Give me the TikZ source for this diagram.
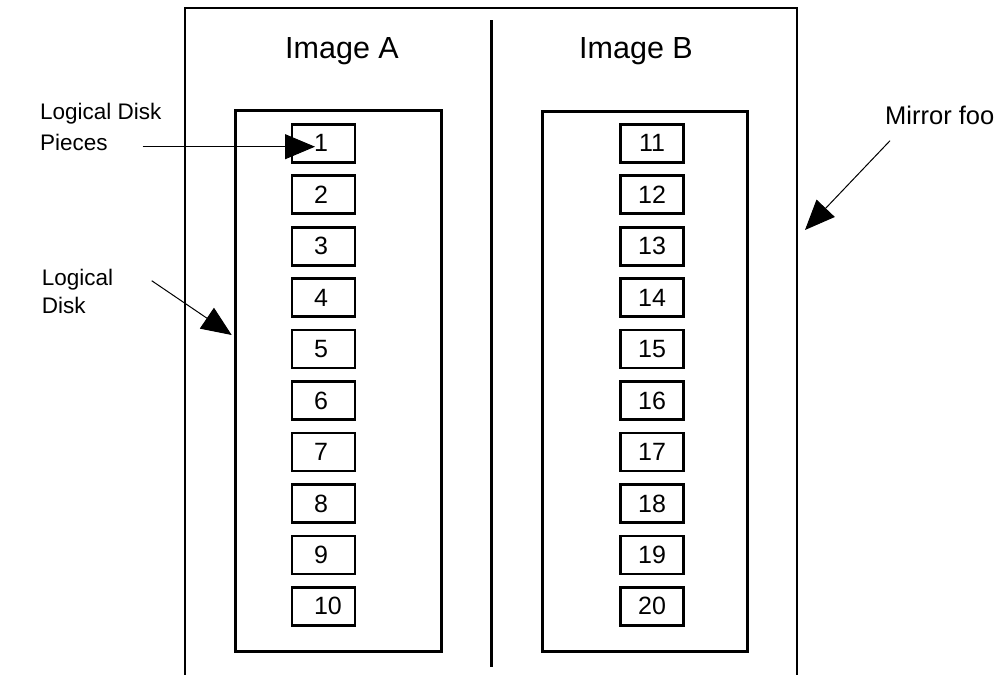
\documentclass[tikz,border=0pt]{standalone}
\usepackage{fontspec}
\setmainfont{Liberation Sans}
\usetikzlibrary{arrows.meta}
\begin{document}
\begin{tikzpicture}[x=1pt,y=-1pt,
  frameline/.style={line width=2pt},
  diskbox/.style={draw,line width=3pt,inner sep=0pt},
  piece/.style={draw,line width=2.7pt,minimum width=63pt,minimum height=38pt,
    inner sep=0pt,font=\fontsize{25}{29}\selectfont},
  title/.style={anchor=base,inner sep=0pt,font=\fontsize{30.5}{36}\selectfont},
  note/.style={anchor=base west,inner sep=0pt,font=\fontsize{22.5}{26}\selectfont},
  pointer/.style={line width=1pt,-{Triangle[length=30pt,width=25pt]}}]
\useasboundingbox (0,0) rectangle (1002,675);

% mirror frame, open at the bottom, and the divider between the two images
\draw[frameline] (185,675) -- (185,8) -- (797,8) -- (797,675);
\draw[line width=2.5pt] (491.5,20) -- (491.5,667);

% image titles
\node[title] (ta) at (342,58.3) {Image A};
\node[title] (tb) at (636,58.3) {Image B};

% logical disks
\node[diskbox,minimum width=206pt,minimum height=541pt] (diskA) at (338.5,381) {};
\node[diskbox,minimum width=205pt,minimum height=540pt] (diskB) at (644.5,381.7) {};

% logical disk pieces
\foreach \i in {1,...,10} {
  \node[piece] (a\i) at (323.5,{143.3+51.45*(\i-1)}) {\makebox[19pt][l]{\i}};
  \pgfmathtruncatemacro\n{\i+10}
  \node[piece] (b\i) at (652,{143.3+51.45*(\i-1)}) {\n};
}

% labels
\node[note] (ldp1) at (40,119.5) {Logical Disk};
\node[note] (ldp2) at (40,150) {Pieces};
\node[note] (ld1) at (41.7,285.5) {Logical};
\node[note] (ld2) at (41.7,313.5) {Disk};
\node[note,font=\fontsize{25.5}{30}\selectfont] (mf) at (885,124.5) {Mirror foo};

% pointers
\coordinate (p1s) at (142.7,146.7);
\coordinate (p1e) at (315,146.7);
\coordinate (p2s) at (151.7,280.7);
\coordinate (p2e) at (231.7,335);
\coordinate (p3s) at (890,140.7);
\coordinate (p3e) at (805,230);
\draw[pointer] (p1s) -- (p1e);
\draw[pointer] (p2s) -- (p2e);
\draw[pointer] (p3s) -- (p3e);
\end{tikzpicture}
\end{document}
